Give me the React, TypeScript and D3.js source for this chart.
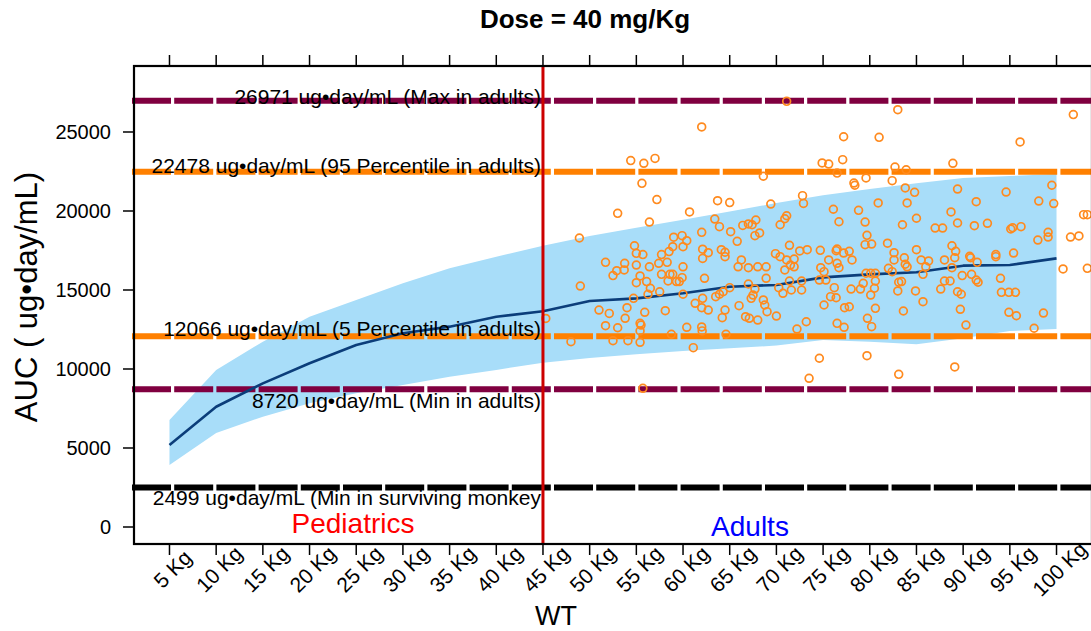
import React from 'react';
import * as d3 from 'd3';

// ---------- DATA ----------
const weightCategories = [5, 10, 15, 20, 25, 30, 35, 40, 45, 50, 55, 60, 65, 70, 75, 80, 85, 90, 95, 100];
const xTickLabels = weightCategories.map((w) => `${w} Kg`);
const medianAUC = [5190, 7610, 9090, 10360, 11520, 12260, 12680, 13310, 13650, 14300, 14470, 14790, 15210, 15320, 15800, 15990, 16120, 16540, 16580, 17000];
const upperAUC = [6770, 9940, 11730, 13310, 14370, 15420, 16370, 17110, 17800, 18420, 18940, 19450, 19970, 20500, 21000, 21390, 21750, 22090, 22215, 22340];
const lowerAUC = [3920, 5950, 6980, 7830, 8460, 8990, 9510, 9940, 10400, 10700, 10930, 11140, 11310, 11480, 11830, 11730, 11560, 11940, 12400, 12530];
const yTickValues = [0, 5000, 10000, 15000, 20000, 25000];
const refValues = [26971, 22478, 12066, 8720, 2499];
const refLabels = [
  '26971 ug•day/mL (Max in adults)',
  '22478 ug•day/mL (95 Percentile in adults)',
  '12066 ug•day/mL (5 Percentile in adults)',
  '8720 ug•day/mL (Min in adults)',
  '2499 ug•day/mL (Min in surviving monkey',
];
const boundaryWeight = 45;
// observed adults: [WT, AUC]
const adultPoints: [number, number][] = [
  [71.1, 26940], [62.0, 25320], [54.4, 23190], [55.8, 23020], [57.0, 23330], [55.6, 21750], [68.6, 22200], [57.2, 20720], [53.0, 19850], [48.9, 18290],
  [56.4, 19300], [60.7, 19940], [63.7, 20650], [65.0, 20530], [69.4, 20440], [72.8, 20970], [72.9, 20480], [71.1, 19700], [70.9, 19510], [70.4, 19130],
  [63.4, 19490], [63.9, 19010], [65.1, 18690], [66.4, 19090], [67.0, 19180], [67.4, 19130], [67.8, 19430], [68.2, 18610], [67.7, 18440], [62.0, 18650],
  [65.8, 18080], [59.0, 18340], [59.9, 18440], [60.4, 18120], [58.9, 17740], [60.0, 17740], [54.8, 17800], [55.0, 17320], [55.7, 17240], [71.4, 17830],
  [69.9, 17300], [72.5, 17470], [73.3, 17550], [62.1, 17580], [62.7, 17360], [64.1, 17550], [64.5, 17390], [58.5, 17430], [57.7, 17240],
  [83.0, 26410], [101.8, 26100], [77.2, 24700], [81.0, 24660], [96.1, 24370], [74.9, 23040], [75.6, 22970], [77.1, 23250], [76.5, 22400], [82.7, 22780],
  [83.9, 22610], [88.9, 23020], [78.3, 21770], [78.4, 21630], [79.6, 22090], [82.4, 21920], [83.8, 21460], [84.8, 21180], [89.4, 21390], [94.6, 21200],
  [99.5, 21630], [99.7, 20470], [98.1, 20630], [91.4, 20590], [84.0, 20510], [80.9, 20510], [76.1, 20110], [78.8, 20040], [76.7, 19320], [79.5, 19300],
  [83.5, 19130], [85.0, 19540], [88.7, 19940], [89.4, 19240], [87.0, 18920], [87.8, 18920], [91.2, 19070], [92.6, 19220], [95.1, 18860], [95.3, 18940],
  [96.2, 19010], [99.1, 18650], [99.1, 18350], [98.0, 18160], [79.7, 18460], [79.5, 17870], [80.2, 17910], [81.9, 17960], [102.9, 19770], [103.3, 19770],
  [101.5, 18350], [102.4, 18420], [74.7, 17510], [76.4, 17490], [76.5, 17590], [77.2, 17340], [77.8, 17450], [82.6, 17360], [85.0, 17550], [88.8, 17800],
  [89.2, 17450], [93.5, 17240], [95.4, 17340], [90.7, 17130],
  [49.0, 15250], [51.7, 16750], [52.5, 15910], [52.9, 16220], [53.75, 16690], [53.7, 16270], [55.0, 16580], [55.4, 15890], [55.0, 15460], [56.1, 15530],
  [56.5, 15110], [56.25, 14730], [56.4, 16470], [57.4, 16690], [57.5, 14890], [57.7, 15990], [58.3, 16750], [58.4, 15570], [58.6, 15990], [58.9, 15990],
  [59.3, 15530], [59.6, 15530], [59.9, 15780], [60.0, 16470], [60.0, 14730], [62.3, 15740], [62.1, 17000], [64.5, 17110], [51.0, 13730], [52.1, 13520],
  [54.0, 13880], [53.8, 13210], [51.7, 12740], [53.0, 12610], [55.4, 12890], [55.5, 12780], [55.4, 12410], [55.9, 13590], [54.7, 14470], [58.1, 13690],
  [48.0, 11730], [52.5, 11790], [54.1, 11790], [55.4, 11690], [60.4, 12640], [61.1, 11350], [62.0, 12660], [62.05, 12410], [58.75, 12200], [61.3, 14160],
  [62.1, 14470], [62.0, 13880], [62.7, 13730], [63.5, 14580], [63.9, 14730], [64.3, 14890], [65.0, 15150], [64.5, 13730], [64.2, 13250], [66.0, 14010],
  [66.7, 13310], [67.1, 13210], [68.0, 13100], [67.3, 14470], [67.5, 14680], [67.7, 15060], [68.6, 14370], [68.75, 14050], [69.0, 13630], [70.0, 13350],
  [67.0, 15380], [68.9, 15740], [65.9, 16470], [67.0, 16410], [66.25, 16900], [68.0, 16470], [68.9, 16470], [70.25, 15150], [70.7, 14790], [71.4, 15570],
  [71.6, 15000], [72.7, 15000], [72.7, 15570], [70.9, 16270], [71.5, 16580], [71.9, 16470], [70.4, 17110], [71.1, 16900], [71.9, 16960], [73.2, 12990],
  [72.2, 12530], [73.5, 9410], [55.7, 8780], [64.6, 12200], [45.3, 13200],
  [75.6, 16900], [74.75, 16410], [75.1, 16160], [74.6, 15630], [75.3, 15630], [76.5, 16690], [76.7, 16410], [76.2, 15150], [75.8, 14580], [76.4, 14510],
  [75.1, 14050], [77.3, 13880], [77.8, 13940], [78.0, 15060], [78.1, 16900], [79.0, 15060], [79.3, 15420], [79.6, 16060], [80.1, 16060], [80.6, 16060],
  [80.6, 15570], [80.5, 15110], [80.1, 14680], [80.6, 13840], [79.75, 13210], [80.2, 12680], [76.5, 12890], [77.25, 12640], [74.6, 10680], [79.7, 10840],
  [83.1, 9660], [89.1, 10130], [82.0, 16370], [82.4, 16160], [82.6, 16900], [83.7, 17040], [83.8, 16630], [84.0, 16470], [83.1, 15490], [83.0, 14940],
  [83.4, 15530], [84.9, 14940], [85.7, 14260], [83.6, 13670], [85.5, 16900], [86.3, 16840], [86.0, 16470], [85.7, 15990], [88.0, 16900], [89.1, 17040],
  [88.8, 16410], [88.0, 15570], [88.6, 15570], [87.6, 15060], [89.4, 14890], [89.8, 14730], [89.9, 15910], [90.8, 17040], [91.5, 16750], [90.9, 15990],
  [91.4, 15630], [91.6, 15490], [89.7, 13780], [90.3, 12780], [94.0, 15740], [93.5, 17110], [94.1, 14850], [94.9, 14850], [95.6, 14850], [94.9, 13590],
  [95.7, 13370], [98.6, 13540], [97.6, 12580], [100.7, 16330], [103.3, 16370],
];

// ---------- LAYOUT / STYLE ----------
const W = 1091;
const H = 631;
const plot = { left: 134, right: 1092, top: 66, bottom: 544 };
const FONT = 'Liberation Sans, Arial, Helvetica, sans-serif';
const refStyles = [
  { color: '#800040', labelDy: 3 },
  { color: '#FF8000', labelDy: 1.5 },
  { color: '#FF8000', labelDy: 0 },
  { color: '#800040', labelDy: 19 },
  { color: '#000000', labelDy: 17 },
];

export default function App() {
  const x = d3.scaleLinear().domain([1.2, 103.8]).range([plot.left, plot.right]);
  const y = d3.scaleLinear().domain([-1076, 29177]).range([plot.bottom, plot.top]);

  const bandData = weightCategories.map((w, i) => ({ w, lo: lowerAUC[i], hi: upperAUC[i], med: medianAUC[i] }));
  const area = d3
    .area<{ w: number; lo: number; hi: number }>()
    .x((d) => x(d.w))
    .y0((d) => y(d.lo))
    .y1((d) => y(d.hi));
  const line = d3
    .line<{ w: number; med: number }>()
    .x((d) => x(d.w))
    .y((d) => y(d.med));

  const xb = x(boundaryWeight);

  return (
    <svg
      width={W}
      height={H}
      style={{ position: 'absolute', left: 0, top: 0, background: '#fff' }}
      fontFamily={FONT}
    >
      <defs>
        <clipPath id="plotClip">
          <rect x={plot.left} y={plot.top} width={plot.right - plot.left} height={plot.bottom - plot.top} />
        </clipPath>
      </defs>
      <rect x={0} y={0} width={W} height={H} fill="#fff" />

      {/* title */}
      <text x={585} y={28} textAnchor="middle" fontSize={26} fontWeight="bold" fill="#000">
        Dose = 40 mg/Kg
      </text>

      {/* ribbon */}
      <g clipPath="url(#plotClip)">
        <path d={area(bandData) || ''} fill="#A8DDF9" stroke="none" />
      </g>

      {/* reference lines */}
      {refValues.map((v, i) => (
        <line
          key={`ref${i}`}
          x1={plot.left - 2}
          x2={plot.right + 10}
          y1={y(v)}
          y2={y(v)}
          stroke={refStyles[i].color}
          strokeWidth={6}
          strokeDasharray="39 3.2"
          strokeLinecap="butt"
        />
      ))}

      {/* median line */}
      <path d={line(bandData) || ''} fill="none" stroke="#0B3D7A" strokeWidth={2.6} strokeLinejoin="round" />

      {/* observed points */}
      <g clipPath="url(#plotClip)">
        {adultPoints.map(([w, v], i) => (
          <circle key={`p${i}`} cx={x(w)} cy={y(v)} r={3.9} fill="none" stroke="#FF8A1E" strokeWidth={1.7} />
        ))}
      </g>

      {/* reference labels */}
      {refValues.map((v, i) => (
        <text
          key={`lab${i}`}
          x={xb - 2}
          y={y(v) + refStyles[i].labelDy}
          textAnchor="end"
          fontSize={21}
          fill="#000"
        >
          {refLabels[i]}
        </text>
      ))}

      {/* group labels */}
      <text x={353} y={533} textAnchor="middle" fontSize={28} fill="#FF0000">
        Pediatrics
      </text>
      <text x={750} y={536} textAnchor="middle" fontSize={28} fill="#0000FF">
        Adults
      </text>

      {/* boundary */}
      <line x1={xb} x2={xb} y1={plot.top} y2={plot.bottom} stroke="#CC0000" strokeWidth={3} />

      {/* frame */}
      <rect
        x={plot.left}
        y={plot.top}
        width={plot.right - plot.left}
        height={plot.bottom - plot.top}
        fill="none"
        stroke="#000"
        strokeWidth={2.2}
      />

      {/* x ticks bottom & top */}
      {weightCategories.map((w, i) => (
        <g key={`xt${i}`}>
          <line x1={x(w)} x2={x(w)} y1={plot.bottom} y2={plot.bottom + 11} stroke="#000" strokeWidth={1.5} />
          <line x1={x(w)} x2={x(w)} y1={plot.top - 11} y2={plot.top} stroke="#000" strokeWidth={1.5} />
          <text
            transform={`translate(${x(w) + 3},${569}) rotate(-45)`}
            textAnchor="middle"
            dominantBaseline="central"
            fontSize={21}
            fill="#000"
          >
            {xTickLabels[i]}
          </text>
        </g>
      ))}

      {/* y ticks */}
      {yTickValues.map((v) => (
        <g key={`yt${v}`}>
          <line x1={plot.left - 11} x2={plot.left} y1={y(v)} y2={y(v)} stroke="#000" strokeWidth={1.5} />
          <text x={111} y={y(v)} textAnchor="end" dominantBaseline="central" fontSize={20} fill="#000">
            {v}
          </text>
        </g>
      ))}

      {/* axis titles */}
      <text x={556} y={625} textAnchor="middle" fontSize={27} fill="#000">
        WT
      </text>
      <text
        transform={`translate(37,297) rotate(-90)`}
        textAnchor="middle"
        fontSize={31}
        fill="#000"
      >
        AUC ( ug•day/mL)
      </text>
    </svg>
  );
}
